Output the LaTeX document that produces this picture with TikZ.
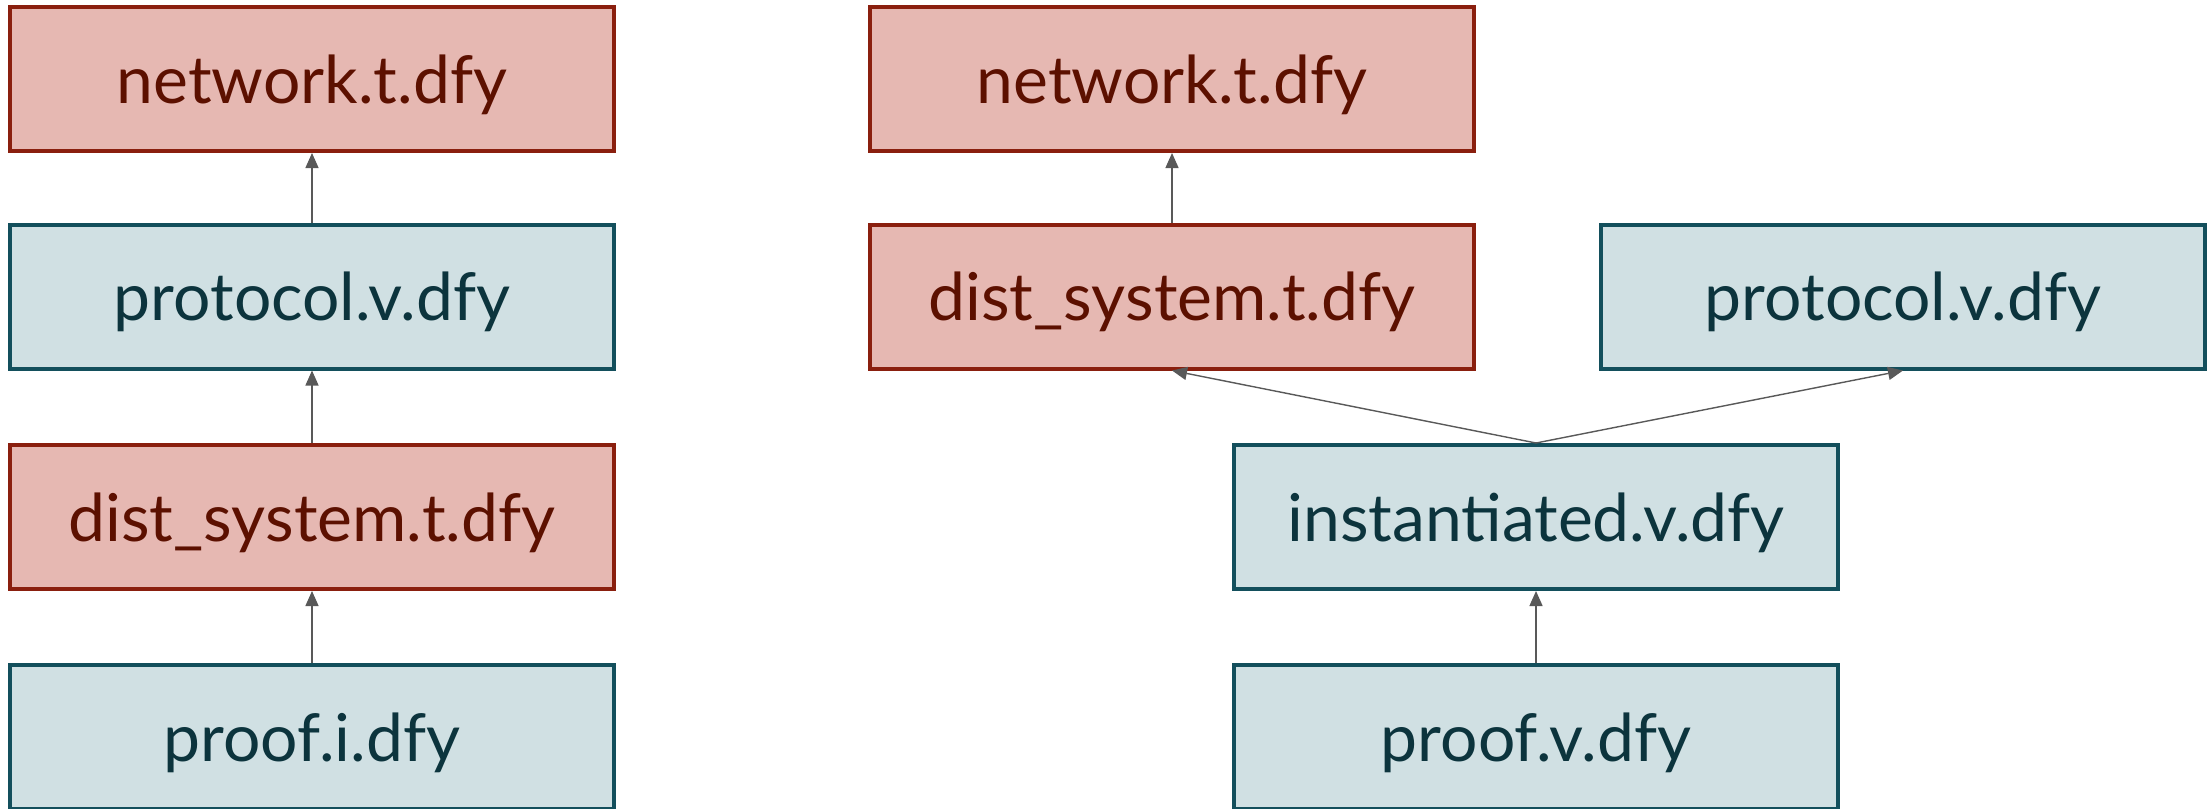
\documentclass[tikz,border=0pt]{standalone}
\usepackage{fontspec}
\setmainfont{Lato}
\usepackage{tikz}
\usetikzlibrary{arrows.meta,positioning}
\definecolor{tfill}{HTML}{E6B8B2}
\definecolor{tdraw}{HTML}{8A1F0E}
\definecolor{ttext}{HTML}{5C1000}
\definecolor{vfill}{HTML}{D0E0E3}
\definecolor{vdraw}{HTML}{134F5C}
\definecolor{vtext}{HTML}{0C343D}
\definecolor{dep}{HTML}{595959}
\tikzset{
	file/.style={draw,rectangle,align=center,line width=2pt,minimum width=302pt,minimum height=72pt,text depth=0pt,font=\fontsize{33}{40}\selectfont},
	trusted/.style={file,fill=tfill,draw=tdraw,text=ttext},
	verified/.style={file,fill=vfill,draw=vdraw,text=vtext},
	uses/.style={-{Triangle[length=7.5pt,width=6.5pt]},draw=dep,fill=dep,line width=0.7pt}
}
\begin{document}
\begin{tikzpicture}[x=0.5pt,y=0.5pt]
            \useasboundingbox (0,0) rectangle (2209,-808);
            % left: the trusted protocol spec
            \node[trusted] (net1) at (312,-79) {network.t.dfy};
            \node[verified] (proto1) at (312,-296.5) {protocol.v.dfy};
            \node[trusted] (dist1) at (312,-517) {dist\_system.t.dfy};
            \node[verified] (proof1) at (312,-737) {proof.i.dfy};
            \draw[uses] (proto1) -- (net1);
            \draw[uses] (dist1) -- (proto1);
            \draw[uses] (proof1) -- (dist1);
            % right: instantiated
            \node[trusted] (net2) at (1172,-79) {network.t.dfy};
            \node[trusted] (dist2) at (1172,-296.5) {dist\_system.t.dfy};
            \node[verified] (proto2) at (1903,-296.5) {protocol.v.dfy};
            \node[verified] (inst) at (1536,-517) {instantiated.v.dfy};
            \node[verified] (proof2) at (1536,-737) {proof.v.dfy};
            \draw[uses] (dist2) -- (net2);
            \draw[uses] (inst.north) -- (dist2.south);
            \draw[uses] (inst.north) -- (proto2.south);
            \draw[uses] (proof2) -- (inst);
        \end{tikzpicture}
\end{document}
